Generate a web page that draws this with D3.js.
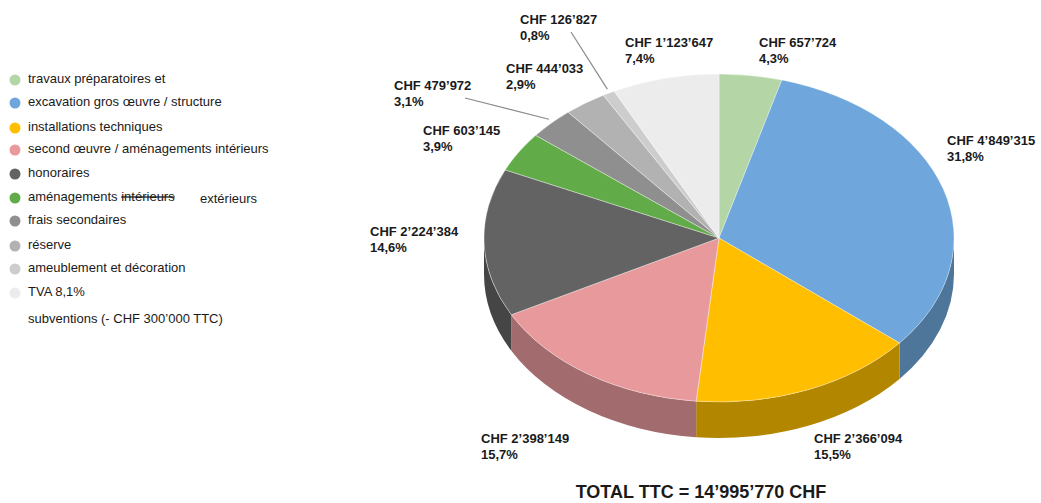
<!DOCTYPE html>
<html>
<head>
<meta charset="UTF-8">
<title>Budget</title>
<script src="https://cdn.jsdelivr.net/npm/d3@7"></script>
<style>
  body { margin: 0; background: #fff; }
  text { font-family: Arial, "Liberation Sans", sans-serif; fill: #1a1a1a; }
  .lbl { font-weight: bold; font-size: 13px; }
  .leg { font-size: 13px; }
</style>
</head>
<body>
<script>
// categories, values and printed labels
var categories = ['travaux préparatoires et', 'excavation gros œuvre / structure',
  'installations techniques', 'second œuvre / aménagements intérieurs', 'honoraires',
  'aménagements extérieurs', 'frais secondaires', 'réserve', 'ameublement et décoration', 'TVA 8,1%'];
var values = [657724, 4849315, 2366094, 2398149, 2224384, 603145, 479972, 444033, 126827, 1123647];
var amountLabels = ['CHF 657’724', 'CHF 4’849’315', 'CHF 2’366’094', 'CHF 2’398’149', 'CHF 2’224’384',
  'CHF 603’145', 'CHF 479’972', 'CHF 444’033', 'CHF 126’827', 'CHF 1’123’647'];
var pctLabels = ['4,3%', '31,8%', '15,5%', '15,7%', '14,6%', '3,9%', '3,1%', '2,9%', '0,8%', '7,4%'];
var colors = ['#b4d6a6', '#6fa7dc', '#ffbf00', '#e8999b', '#636363', '#61ab48', '#8f8f8f', '#b2b2b2', '#cdcdcd', '#ececec'];
var totalText = 'TOTAL TTC = 14’995’770 CHF';

var W = 1041, H = 503;
var cx = 719, cy = 238, rx = 235, ry = 164, depth = 36;

var svg = d3.select('body').append('svg')
  .attr('width', W).attr('height', H);

var pie = d3.pie().sort(null).value(function(d) { return d; });
var arcs = pie(values);

function pt(a, dy) {
  return [cx + rx * Math.sin(a), cy - ry * Math.cos(a) + (dy || 0)];
}

// side walls (front half only)
var sideG = svg.append('g');
arcs.forEach(function(d, i) {
  var s = Math.max(d.startAngle, Math.PI / 2),
      e = Math.min(d.endAngle, Math.PI * 1.5);
  if (e <= s) return;
  var p0 = pt(s), p1 = pt(e), q1 = pt(e, depth), q0 = pt(s, depth);
  var p = 'M' + p0 + 'A' + rx + ',' + ry + ' 0 0 1 ' + p1 +
    'L' + q1 + 'A' + rx + ',' + ry + ' 0 0 0 ' + q0 + 'Z';
  sideG.append('path').attr('d', p)
    .attr('fill', d3.color(colors[i]).darker(1));
});

// top faces
var topG = svg.append('g');
topG.selectAll('path').data(arcs).enter().append('path')
  .attr('d', function(d) {
    var p0 = pt(d.startAngle), p1 = pt(d.endAngle);
    var large = (d.endAngle - d.startAngle) > Math.PI ? 1 : 0;
    return 'M' + cx + ',' + cy + 'L' + p0 + 'A' + rx + ',' + ry + ' 0 ' + large + ' 1 ' + p1 + 'Z';
  })
  .attr('fill', function(d, i) { return colors[i]; })
  .attr('stroke', '#fff').attr('stroke-width', 0.6).attr('stroke-opacity', 0.6);

// label positions (layout)
var labelPos = [[759, 47], [947, 145], [814, 443], [481, 443], [370, 236],
  [423, 135], [394, 90], [506, 73], [520, 24], [625, 47]];

var lg = svg.append('g');
arcs.forEach(function(d, i) {
  var t = lg.append('text').attr('class', 'lbl')
    .attr('x', labelPos[i][0]).attr('y', labelPos[i][1]);
  t.append('tspan').attr('x', labelPos[i][0]).text(amountLabels[i]);
  t.append('tspan').attr('x', labelPos[i][0]).attr('dy', 16).text(pctLabels[i]);
});

// leader lines
[[6, [465, 98]], [8, [571, 32]]].forEach(function(l) {
  var d = arcs[l[0]], a = (d.startAngle + d.endAngle) / 2;
  var p = pt(a);
  svg.append('line')
    .attr('x1', l[1][0]).attr('y1', l[1][1])
    .attr('x2', p[0] + 3 * Math.sin(a)).attr('y2', p[1] - 4)
    .attr('stroke', '#8a8a8a').attr('stroke-width', 1.2);
});

// legend
var legY = [79, 102, 127, 149, 173, 197, 220, 245, 268, 292];
var leg = svg.append('g');
categories.forEach(function(c, i) {
  leg.append('circle').attr('cx', 15).attr('cy', legY[i] + 1).attr('r', 5.5)
    .attr('fill', colors[i]);
  var t = leg.append('text').attr('class', 'leg').attr('x', 28).attr('y', legY[i] + 4);
  if (i === 5) {
    t.append('tspan').text('aménagements ');
    t.append('tspan').attr('text-decoration', 'line-through').text('intérieurs');
    leg.append('text').attr('class', 'leg').attr('x', 200).attr('y', legY[i] + 6).text('extérieurs');
  } else {
    t.text(c);
  }
});
leg.append('text').attr('class', 'leg').attr('x', 28).attr('y', 323)
  .text('subventions (- CHF 300’000 TTC)');

svg.append('text')
  .attr('x', 701).attr('y', 498)
  .attr('text-anchor', 'middle')
  .style('font-weight', 'bold').style('font-size', '18px')
  .text(totalText);
</script>
</body>
</html>
